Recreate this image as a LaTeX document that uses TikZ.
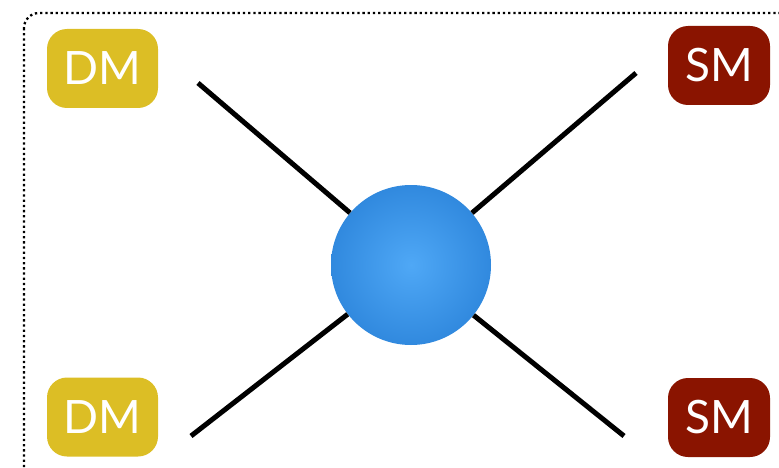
\documentclass[tikz,border=0pt]{standalone}
\usepackage{fontspec}
\setmainfont{Lato}
\definecolor{dmyellow}{HTML}{DCBE25}
\definecolor{smred}{HTML}{8A1400}
\definecolor{ballin}{HTML}{4FA8F6}
\definecolor{ballout}{HTML}{1C74CE}
\pgfdeclareradialshading{ballshade}{\pgfpoint{0bp}{0bp}}{color(0bp)=(ballin); color(42bp)=(ballout); color(50bp)=(ballout)}
\tikzset{
  particle/.style={rounded corners=20pt, inner sep=0pt, text=white, font=\fontsize{46}{46}\selectfont},
  dmbox/.style={particle, fill=dmyellow, minimum width=111pt, minimum height=79pt},
  smbox/.style={particle, fill=smred, minimum width=102pt, minimum height=79pt},
  leg/.style={line width=5pt, black},
  frame/.style={line width=2.3pt, dash pattern=on 2.3pt off 2.9pt, rounded corners=15pt}
}
\begin{document}
\begin{tikzpicture}[x=1pt,y=-1pt]
\useasboundingbox (0,0) rectangle (779,468);
\clip (0,0) rectangle (779,468);
\draw[frame] (24,13) rectangle (820,520);
\node[dmbox] (dm1) at (102.5,68.5) {DM};
\node[smbox] (sm1) at (719,65.5) {SM};
\node[dmbox] (dm2) at (102.5,417) {DM};
\node[smbox] (sm2) at (719,417.5) {SM};
\node[circle, minimum size=160pt, inner sep=0pt, shading=ballshade] (ball) at (411,265) {};
\coordinate (tl) at (198,83);
\coordinate (tr) at (636,73);
\coordinate (bl) at (191,436);
\coordinate (br) at (624,436);
\draw[leg] (tl) -- (ball);
\draw[leg] (tr) -- (ball);
\draw[leg] (bl) -- (ball);
\draw[leg] (br) -- (ball);
\end{tikzpicture}
\end{document}
